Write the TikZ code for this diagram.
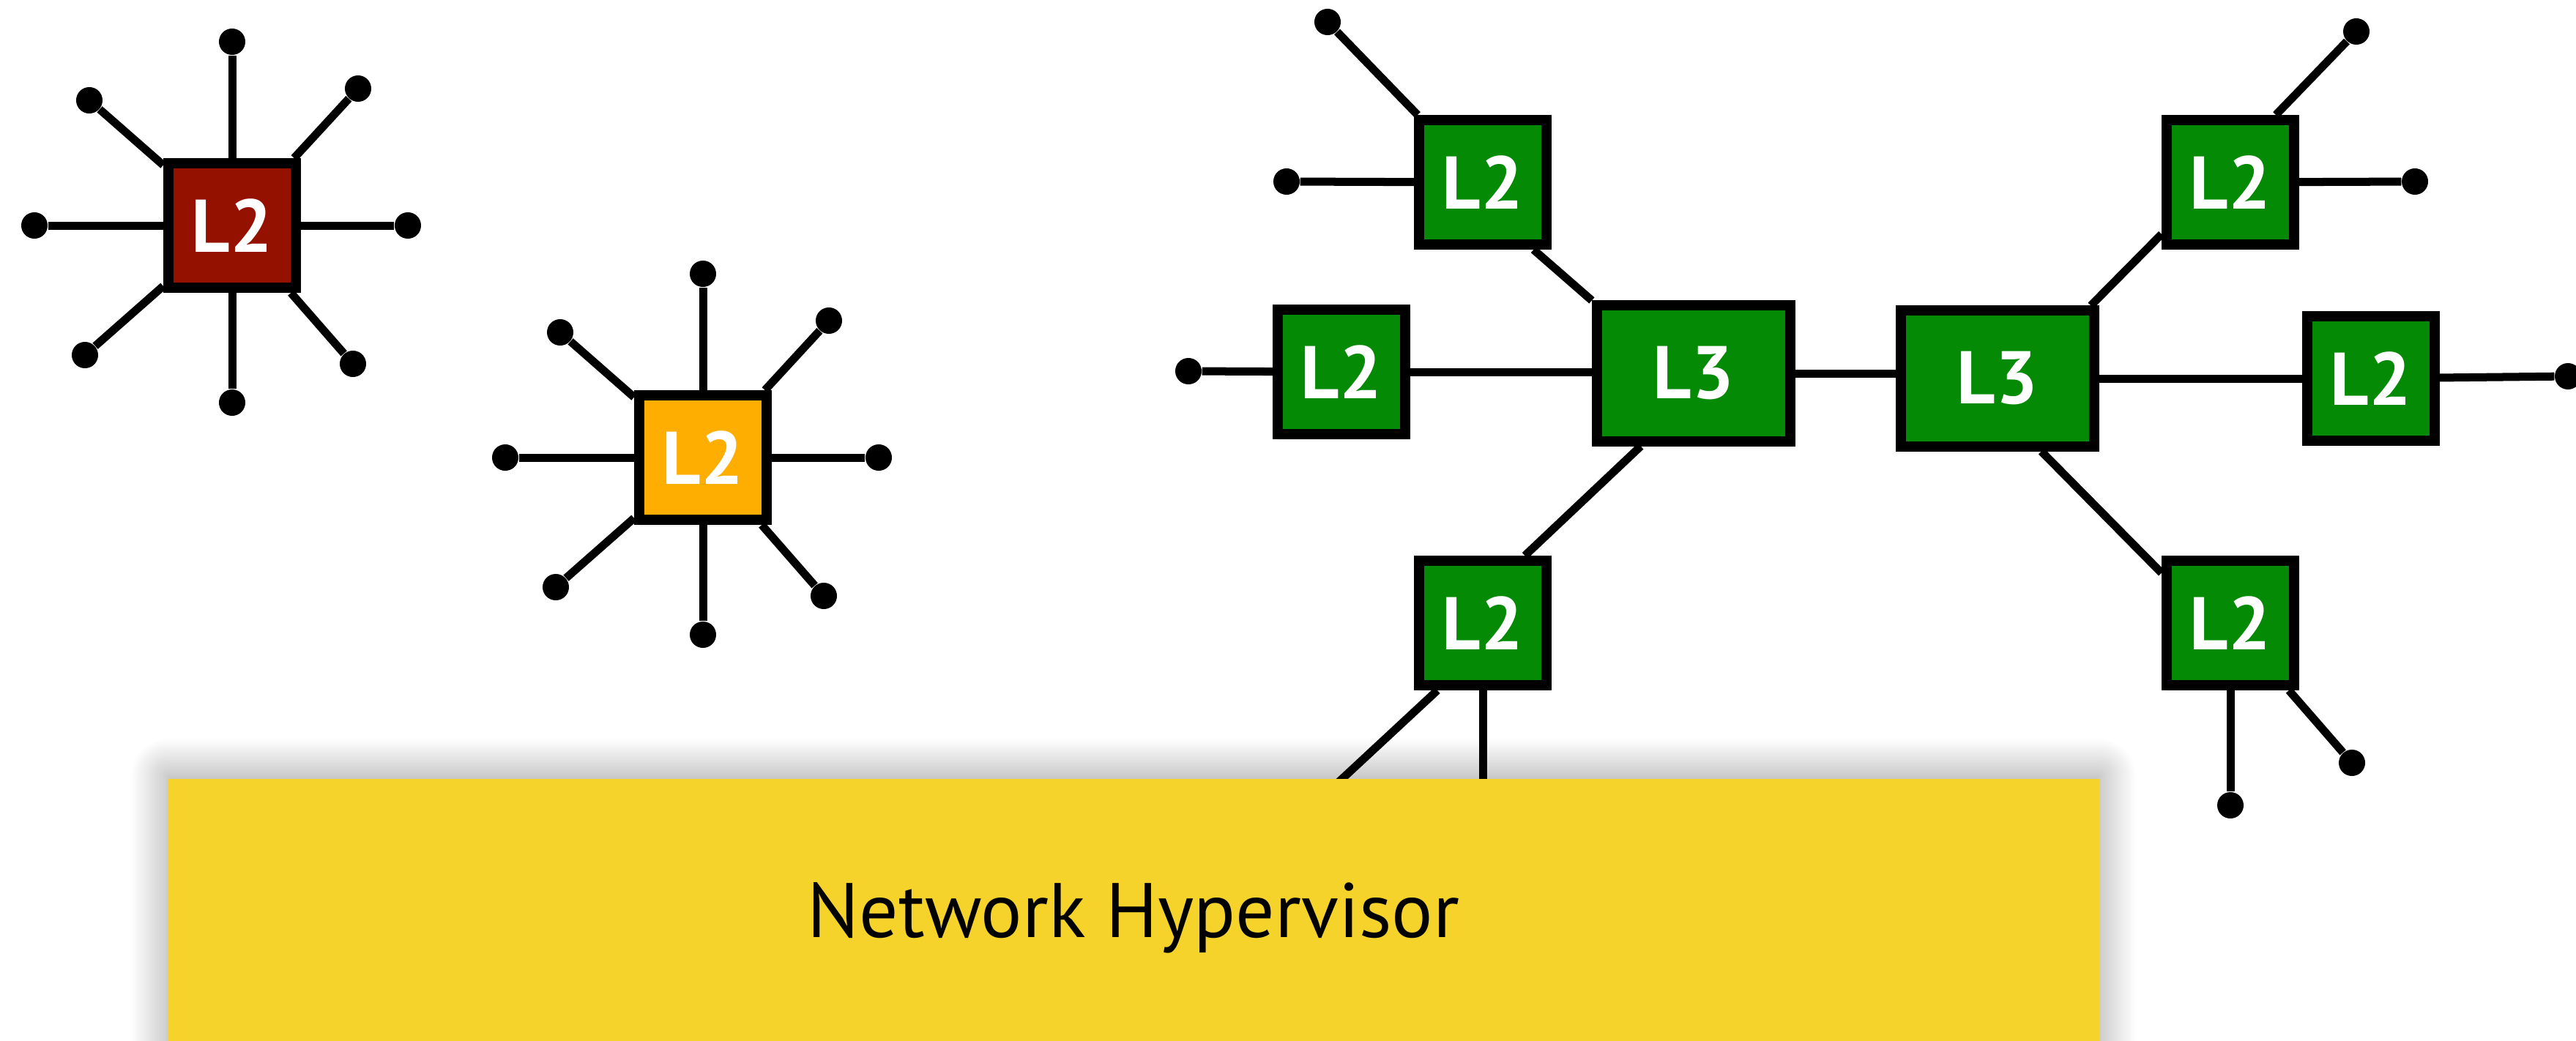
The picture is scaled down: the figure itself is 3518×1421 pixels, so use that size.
\documentclass[tikz,border=0pt]{standalone}
\usepackage{fontspec}
\setsansfont{PT Sans}
\usetikzlibrary{calc, shadows.blur}

\definecolor{swred}{RGB}{148,17,0}
\definecolor{sworange}{RGB}{254,174,0}
\definecolor{swgreen}{RGB}{4,138,4}
\definecolor{hvyellow}{RGB}{245,211,42}

\begin{document}
\begin{tikzpicture}[
					x=0.01cm, y=-0.01cm,
					every node/.style={font=\sffamily\fontsize{29}{34}\selectfont},
					sw/.style={draw=black, line width=0.14cm, inner sep=0pt, text=white,
						font=\sffamily\bfseries\fontsize{29}{34}\selectfont,
						minimum width=1.74cm, minimum height=1.70cm,
						blur shadow={shadow xshift=0.03cm, shadow yshift=-0.04cm, shadow blur radius=0.06cm, shadow opacity=30}},
					l3/.style={sw, minimum width=2.64cm, minimum height=1.85cm},
					host/.style={circle, fill=black, inner sep=0pt, minimum size=0.36cm},
					link/.style={line width=0.11cm},
					hv/.style={fill=hvyellow, minimum width=26.37cm, minimum height=3.8cm,
						font=\sffamily\fontsize{30}{36}\selectfont,
						blur shadow={shadow xshift=0pt, shadow yshift=0.05cm, shadow blur radius=0.5cm, shadow blur steps=24, shadow opacity=40}}
					]
					\useasboundingbox (0,0) rectangle (3518,1421);

					% single switches with their hosts
					\node[sw, fill=swred] (red) at (317,308) {L2};
					\node[sw, fill=sworange] (orange) at (960,625) {L2};
					\foreach \s in {red, orange}
						\foreach \dx/\dy [count=\i] in {0/-251, 172/-187, 240/0, 165/189, 0/242, -201/177, -270/0, -195/-171}
						{
							\node[host] (\s-\i) at ($(\s)+(\dx,\dy)$) {};
							\draw[link] (\s) -- (\s-\i);
						}

					% routed network
					\node[sw, fill=swgreen] (l2a) at (2025,249) {L2};
					\node[sw, fill=swgreen] (l2b) at (1832,508) {L2};
					\node[l3, fill=swgreen] (l3a) at (2313,510) {L3};
					\node[sw, fill=swgreen] (l2d) at (2025,851) {L2};
					\node[l3, fill=swgreen] (l3b) at (2728,517) {L3};
					\node[sw, fill=swgreen] (l2e) at (3046,249) {L2};
					\node[sw, fill=swgreen] (l2f) at (3238,517) {L2};
					\node[sw, fill=swgreen] (l2h) at (3046,851) {L2};

					\node[host] (a-1) at (1813,30) {};
					\node[host] (a-2) at (1757,248) {};
					\node[host] (b-1) at (1623,507) {};
					\node[host] (e-1) at (3218,43) {};
					\node[host] (e-2) at (3298,248) {};
					\node[host] (f-1) at (3507,514) {};
					\node[host] (h-1) at (3046,1100) {};
					\node[host] (h-2) at (3212,1042) {};
					\coordinate (d-1) at (1794,1100);
					\coordinate (d-2) at (2025,1120);

					\draw[link] (l2a) -- (a-1);
					\draw[link] (l2a) -- (a-2);
					\draw[link] (l2a.307) -- (l3a.north west);
					\draw[link] (l2b) -- (b-1);
					\draw[link] (l2b.east) -- (l2b.east -| l3a.west);
					\draw[link] (l3a.east) -- (l3a.east -| l3b.west);
					\draw[link] (l3a.234) -- (l2d.58);
					\draw[link] (l2d.south) -- (d-2);
					\draw[link] (l2d.236) -- (d-1);
					\draw[link] (l3b.38) -- (l2e.217);
					\draw[link] (l2e.56) -- (e-1);
					\draw[link] (l2e) -- (e-2);
					\draw[link] (l3b) -- (l2f);
					\draw[link] (l2f) -- (f-1);
					\draw[link] (l3b.301) -- (l2h.144);
					\draw[link] (l2h) -- (h-1);
					\draw[link] (l2h) -- (h-2);

					\node[hv] (hyper) at (1548,1254) {Network Hypervisor};
				\end{tikzpicture}
\end{document}
